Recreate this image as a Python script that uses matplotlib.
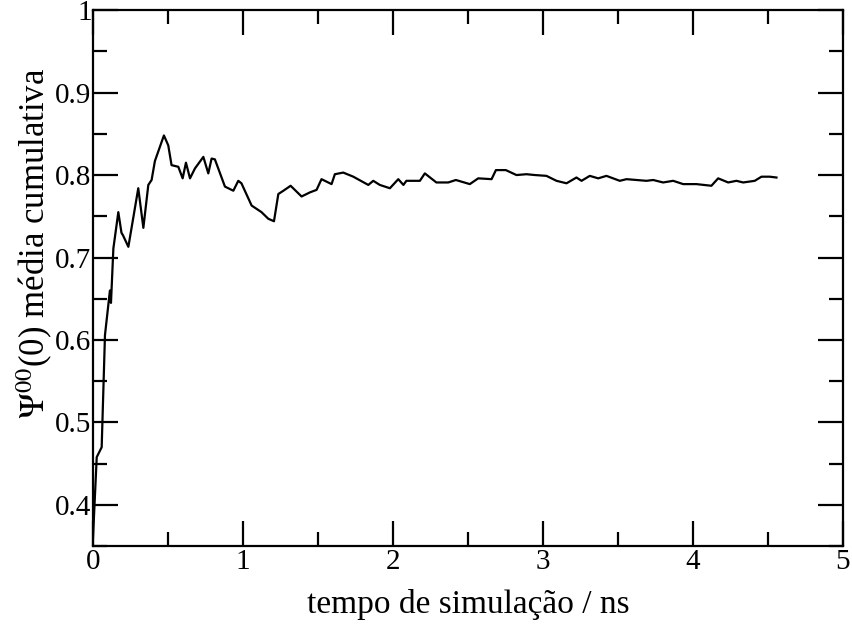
import numpy as np
import matplotlib.pyplot as plt
from matplotlib.ticker import MultipleLocator

plt.rcParams['font.family'] = ['Liberation Serif', 'DejaVu Serif']
plt.rcParams['mathtext.fontset'] = 'stix'

# cumulative average
tempo = [0.0, 0.025, 0.058, 0.08, 0.113, 0.12, 0.136, 0.169, 0.19, 0.2, 0.236,
         0.302, 0.336, 0.369, 0.391, 0.413, 0.473, 0.502, 0.524, 0.569, 0.598,
         0.62, 0.647, 0.68, 0.736, 0.769, 0.791, 0.813, 0.88, 0.936, 0.969, 0.99,
         1.058, 1.124, 1.169, 1.207, 1.236, 1.27, 1.318, 1.391, 1.447, 1.491,
         1.524, 1.591, 1.613, 1.669, 1.736, 1.836, 1.869, 1.913, 1.98, 2.036,
         2.07, 2.09, 2.18, 2.213, 2.29, 2.369, 2.42, 2.513, 2.569, 2.658, 2.687,
         2.753, 2.824, 2.891, 2.947, 3.024, 3.091, 3.158, 3.224, 3.258, 3.313,
         3.369, 3.424, 3.513, 3.558, 3.624, 3.691, 3.736, 3.802, 3.869, 3.936,
         4.024, 4.124, 4.169, 4.236, 4.291, 4.336, 4.413, 4.458, 4.513, 4.558]
media = [0.36, 0.458, 0.47, 0.606, 0.66, 0.645, 0.711, 0.755, 0.73, 0.727, 0.713,
         0.784, 0.736, 0.788, 0.794, 0.817, 0.848, 0.836, 0.812, 0.81, 0.796,
         0.815, 0.796, 0.808, 0.822, 0.802, 0.82, 0.819, 0.786, 0.781, 0.793, 0.79,
         0.763, 0.755, 0.747, 0.744, 0.777, 0.781, 0.787, 0.774, 0.779, 0.782,
         0.795, 0.789, 0.801, 0.803, 0.798, 0.788, 0.793, 0.788, 0.784, 0.795,
         0.788, 0.793, 0.793, 0.802, 0.791, 0.791, 0.794, 0.789, 0.796, 0.795, 0.806,
         0.806, 0.8, 0.801, 0.8, 0.799, 0.793, 0.79, 0.797, 0.793, 0.799,
         0.796, 0.799, 0.793, 0.795, 0.794, 0.793, 0.794, 0.791, 0.793, 0.789,
         0.789, 0.787, 0.796, 0.791, 0.793, 0.791, 0.793, 0.798, 0.798, 0.797]

fig = plt.figure(figsize=(8.53, 6.3), dpi=100)
ax = fig.add_axes([0.109, 0.133, 0.879, 0.851])

ax.plot(tempo, media, color='black', lw=1.6)

ax.set_xlim(0, 5)
ax.set_ylim(0.35, 1.0)
ax.xaxis.set_major_locator(MultipleLocator(1))
ax.xaxis.set_minor_locator(MultipleLocator(0.5))
ax.yaxis.set_minor_locator(MultipleLocator(0.05))
ax.set_yticks([0.4, 0.5, 0.6, 0.7, 0.8, 0.9, 1.0])
ax.set_yticklabels(['0.4', '0.5', '0.6', '0.7', '0.8', '0.9', '1'])
ax.tick_params(which='both', direction='in', top=True, right=True,
               labelsize=21, width=1.6)
ax.tick_params(axis='x', pad=2)
ax.tick_params(axis='y', pad=1)
ax.tick_params(which='major', length=18)
ax.tick_params(which='minor', length=10)
for s in ax.spines.values():
    s.set_linewidth(1.6)

ax.set_xlabel('tempo de simulação / ns', fontsize=24, labelpad=10)
ax.set_ylabel(r'$\Psi^{00}$(0) média cumulativa', fontsize=25, labelpad=0,
              y=0.565)

fig.savefig('out.png', dpi=100)
